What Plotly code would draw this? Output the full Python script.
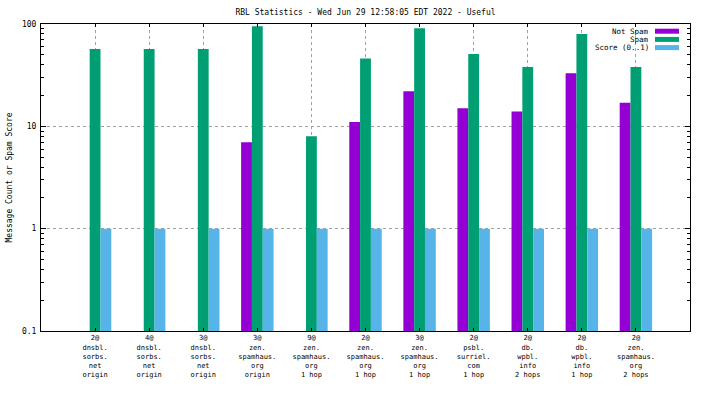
import plotly.graph_objects as go

categories = [
    "2@<br>dnsbl.<br>sorbs.<br>net<br>origin",
    "4@<br>dnsbl.<br>sorbs.<br>net<br>origin",
    "3@<br>dnsbl.<br>sorbs.<br>net<br>origin",
    "3@<br>zen.<br>spamhaus.<br>org<br>origin",
    "9@<br>zen.<br>spamhaus.<br>org<br>1 hop",
    "2@<br>zen.<br>spamhaus.<br>org<br>1 hop",
    "3@<br>zen.<br>spamhaus.<br>org<br>1 hop",
    "2@<br>psbl.<br>surriel.<br>com<br>1 hop",
    "2@<br>db.<br>wpbl.<br>info<br>2 hops",
    "2@<br>db.<br>wpbl.<br>info<br>1 hop",
    "2@<br>zen.<br>spamhaus.<br>org<br>2 hops",
]
not_spam = [None, None, None, 7, None, 11, 22, 15, 14, 33, 17]
spam = [57, 57, 57, 95, 8, 46, 91, 51, 38, 80, 38]
score = [1, 1, 1, 1, 1, 1, 1, 1, 1, 1, 1]
series_names = ["Not Spam", "Spam", "Score (0..1)"]
colors = ["#9400D3", "#009E73", "#56B4E9"]
y_tickvals = [0.1, 1, 10, 100]
y_ticktext = ["0.1", "1", "10", "100"]

FONT = "DejaVu Sans Mono"
xs = list(range(len(categories)))

W, H = 704, 396
ML, MR, MT, MB = 41, 14, 24, 65
PW, PH = W - ML - MR, H - MT - MB

fig = go.Figure()
for name, vals, c in zip(series_names, [not_spam, spam, score], colors):
    fig.add_trace(go.Bar(x=xs, y=vals, name=name, marker=dict(color=c, line=dict(width=0)),
                         showlegend=False, hoverinfo="skip"))

fig.update_layout(
    width=W, height=H,
    margin=dict(l=ML, r=MR, t=MT, b=MB),
    paper_bgcolor="white", plot_bgcolor="white",
    font=dict(family=FONT, size=8, color="black"),
    barmode="group", bargap=0.4, bargroupgap=0,
    title=dict(text="RBL Statistics - Wed Jun 29 12:58:05 EDT 2022 - Useful",
               x=0.5, xref="paper", xanchor="center", y=1 - 12.5 / H, yref="container",
               yanchor="middle", font=dict(family=FONT, size=8)),
)
fig.update_xaxes(
    range=[-1, 11], tickvals=xs, ticktext=categories,
    showgrid=True, gridcolor="#a0a0a0", griddash="3px,3px", gridwidth=1,
    showline=True, linecolor="black", linewidth=1, mirror="allticks",
    ticks="inside", ticklen=3, tickcolor="black",
    zeroline=False, tickfont=dict(family=FONT, size=7), automargin=False,
)
fig.update_yaxes(
    type="log", range=[-1, 2], tickvals=y_tickvals, ticktext=y_ticktext,
    showgrid=True, gridcolor="#a0a0a0", griddash="3px,3px", gridwidth=1,
    showline=True, linecolor="black", linewidth=1, mirror="allticks",
    ticks="inside", ticklen=5, tickcolor="black", ticklabelstandoff=2,
    minor=dict(ticks="inside", ticklen=3, tickcolor="black", dtick="D1", showgrid=False),
    zeroline=False, tickfont=dict(family=FONT, size=8), automargin=False,
)

fig.add_annotation(text="Message Count or Spam Score", textangle=-90,
                   xref="paper", yref="paper", x=0, y=0.5, xanchor="center", yanchor="middle",
                   xshift=-32, showarrow=False, font=dict(family=FONT, size=8))

# legend (text right-aligned, swatch on the right)
leg_y = [31.2, 39.4, 47.6]
for name, c, yy in zip(series_names, colors, leg_y):
    fig.add_annotation(text=name, xref="paper", yref="paper",
                       x=(650 - ML) / PW, y=1 - (yy - MT) / PH,
                       xanchor="right", yanchor="middle", showarrow=False, borderpad=0,
                       font=dict(family=FONT, size=7.5))
    fig.add_shape(type="rect", xref="paper", yref="paper",
                  x0=(655 - ML) / PW, x1=(679 - ML) / PW,
                  y0=1 - (yy + 2.5 - MT) / PH, y1=1 - (yy - 2.5 - MT) / PH,
                  fillcolor=c, line=dict(width=0))

fig.write_html("out.html", config={"displayModeBar": False},
               post_script="document.body.style.margin='0';document.body.style.overflow='hidden';")
